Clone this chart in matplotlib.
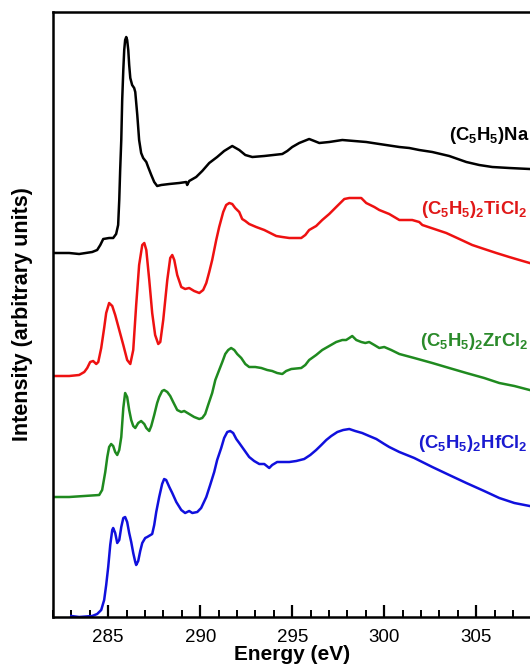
import matplotlib
matplotlib.use("Agg")
import matplotlib.pyplot as plt
from matplotlib.ticker import MultipleLocator

# Carbon K-edge spectra: energy in eV, intensity in arbitrary (stacked) units
na_energy = [282.0, 282.88, 283.42, 284.13, 284.4, 284.57, 284.73, 285.05, 285.27, 285.43,
             285.54, 285.6, 285.65, 285.71, 285.76, 285.82, 285.87, 285.92, 285.98, 286.03,
             286.09, 286.14, 286.2, 286.3, 286.41, 286.47, 286.58, 286.68, 286.79, 286.9,
             287.07, 287.17, 287.34, 287.5, 287.66, 287.88, 288.32, 288.86, 289.24, 289.29,
             289.4, 289.78, 290.11, 290.49, 290.92, 291.3, 291.74, 292.12, 292.45, 292.83,
             293.48, 294.46, 294.73, 295.0, 295.38, 295.92, 296.2, 296.47, 297.01, 297.72,
             298.37, 299.02, 299.73, 300.82, 301.36, 301.9, 302.61, 303.53, 304.46, 305.16,
             305.87, 306.79, 307.9]
na_int = [364, 364, 363, 365, 367, 372, 378, 379, 379, 383,
          392, 417, 447, 477, 517, 547, 567, 577, 580, 577,
          567, 552, 539, 532, 529, 525, 502, 477, 464, 459,
          455, 450, 442, 435, 431, 432, 433, 434, 435, 432,
          436, 440, 446, 454, 460, 466, 471, 467, 462, 460,
          461, 463, 466, 470, 474, 478, 476, 474, 475, 477,
          476, 475, 473, 470, 469, 467, 465, 461, 455, 452,
          450, 449, 448]

ti_energy = [282.0, 282.88, 283.42, 283.7, 283.86, 284.02, 284.18, 284.35, 284.46, 284.62,
             284.78, 284.89, 285.05, 285.22, 285.38, 285.6, 285.82, 286.03, 286.2, 286.36,
             286.52, 286.68, 286.85, 286.96, 287.07, 287.23, 287.39, 287.55, 287.72, 287.83,
             287.99, 288.21, 288.37, 288.48, 288.59, 288.75, 288.97, 289.18, 289.4, 289.67,
             289.95, 290.16, 290.33, 290.49, 290.65, 290.87, 291.03, 291.25, 291.41, 291.58,
             291.74, 291.9, 292.12, 292.28, 292.45, 292.66, 293.04, 293.48, 294.13, 294.46,
             294.84, 295.49, 295.71, 295.92, 296.3, 296.63, 297.01, 297.39, 297.83, 298.1,
             298.48, 298.75, 299.02, 299.46, 299.73, 300.27, 300.82, 301.52, 301.9, 302.07,
             302.72, 303.37, 304.08, 304.78, 305.43, 306.09, 306.79, 307.34, 307.9]
ti_int = [241, 241, 242, 245, 249, 255, 256, 253, 255, 269,
          289, 304, 314, 311, 302, 287, 272, 257, 253, 267,
          312, 352, 372, 374, 367, 337, 304, 282, 273, 275,
          297, 337, 359, 362, 357, 342, 330, 328, 329, 326,
          324, 327, 334, 345, 357, 377, 390, 405, 412, 414,
          413, 409, 405, 398, 396, 393, 390, 387, 381, 380,
          379, 379, 382, 387, 391, 397, 403, 410, 418, 419,
          419, 419, 414, 410, 407, 403, 397, 397, 395, 392,
          388, 384, 378, 372, 368, 364, 360, 357, 354]

zr_energy = [282.0, 282.88, 283.7, 284.51, 284.67, 284.84, 284.95, 285.05, 285.16, 285.27,
             285.38, 285.49, 285.6, 285.71, 285.82, 285.92, 286.03, 286.14, 286.25, 286.36,
             286.47, 286.63, 286.79, 286.96, 287.07, 287.23, 287.34, 287.5, 287.66, 287.77,
             287.93, 288.04, 288.21, 288.37, 288.53, 288.75, 288.97, 289.13, 289.4, 289.67,
             289.95, 290.11, 290.27, 290.43, 290.65, 290.82, 291.03, 291.2, 291.36, 291.52,
             291.68, 291.85, 292.01, 292.23, 292.45, 292.66, 292.99, 293.32, 293.64, 293.91,
             294.18, 294.46, 294.67, 294.95, 295.49, 295.71, 295.92, 296.3, 296.63, 297.01,
             297.39, 297.72, 297.93, 298.1, 298.26, 298.48, 298.75, 298.97, 299.18, 299.46,
             299.73, 300.0, 300.38, 300.82, 301.63, 302.61, 303.53, 304.46, 305.43, 306.25,
             307.07, 307.9]
zr_int = [120, 120, 121, 122, 127, 145, 160, 170, 173, 171,
          165, 162, 167, 180, 209, 224, 220, 207, 197, 191,
          189, 194, 196, 193, 189, 186, 191, 202, 214, 220,
          226, 227, 225, 221, 215, 207, 205, 206, 203, 200,
          198, 199, 203, 212, 224, 237, 247, 255, 263, 267,
          269, 267, 263, 259, 253, 250, 250, 249, 247, 246,
          244, 243, 246, 248, 249, 252, 257, 262, 267, 271,
          275, 277, 277, 279, 281, 277, 275, 274, 275, 272,
          269, 270, 267, 263, 259, 254, 249, 244, 239, 234,
          231, 227]

hf_energy = [282.99, 283.42, 284.13, 284.4, 284.62, 284.78, 284.89, 285.0, 285.11, 285.22,
             285.27, 285.38, 285.49, 285.6, 285.71, 285.82, 285.92, 286.03, 286.14, 286.25,
             286.36, 286.47, 286.52, 286.63, 286.74, 286.85, 287.01, 287.12, 287.39, 287.5,
             287.61, 287.77, 287.93, 288.04, 288.15, 288.32, 288.48, 288.7, 288.97, 289.18,
             289.4, 289.57, 289.84, 290.05, 290.33, 290.54, 290.76, 290.92, 291.14, 291.3,
             291.47, 291.63, 291.79, 291.96, 292.12, 292.39, 292.66, 292.93, 293.21, 293.48,
             293.75, 293.91, 294.18, 294.84, 295.22, 295.65, 295.98, 296.3, 296.58, 296.85,
             297.12, 297.45, 297.77, 298.1, 298.42, 298.8, 299.18, 299.57, 300.0, 300.27,
             300.82, 301.63, 302.61, 303.53, 304.46, 305.43, 306.25, 307.07, 307.9]
hf_int = [1, 0, 1, 3, 7, 17, 32, 50, 72, 87,
          89, 84, 74, 77, 90, 99, 100, 95, 84, 75,
          64, 55, 52, 56, 66, 74, 79, 80, 83, 92,
          105, 120, 133, 138, 137, 130, 124, 115, 107, 104,
          106, 104, 105, 109, 120, 132, 145, 157, 169, 179,
          185, 186, 184, 178, 174, 167, 160, 156, 153, 153,
          149, 152, 155, 155, 156, 158, 162, 167, 172, 177,
          181, 185, 187, 188, 186, 184, 181, 178, 173, 170,
          165, 159, 150, 142, 134, 126, 119, 114, 111]

labels = [r"$\mathbf{(C_5H_5)Na}$",
          r"$\mathbf{(C_5H_5)_2TiCl_2}$",
          r"$\mathbf{(C_5H_5)_2ZrCl_2}$",
          r"$\mathbf{(C_5H_5)_2HfCl_2}$"]

plt.rcParams["font.family"] = ["Liberation Sans", "DejaVu Sans"]
plt.rcParams["mathtext.fontset"] = "custom"
plt.rcParams["mathtext.rm"] = "Liberation Sans"
plt.rcParams["mathtext.bf"] = "Liberation Sans:bold"

fig = plt.figure(figsize=(5.30, 6.69), dpi=100)
# the original figure is cropped on the right, so the axes runs to the edge
ax = fig.add_axes([53 / 530, 52 / 669, 477 / 530, 605 / 669])

series = [
    (na_energy, na_int, "black", "black", (303.5, 482)),
    (ti_energy, ti_int, "#ee1111", "#e01818", (302.0, 408)),
    (zr_energy, zr_int, "#1f8a1f", "#2a8a2a", (301.95, 276)),
    (hf_energy, hf_int, "#1010dd", "#1a1ad0", (301.85, 174)),
]
for (x, y, col, tcol, pos), lab in zip(series, labels):
    ax.plot(x, y, color=col, lw=1.8, solid_joinstyle="round")
    ax.text(pos[0], pos[1], lab, color=tcol, fontsize=13.3, va="center", ha="left")

ax.set_xlim(282, 307.92)
ax.set_ylim(0, 605)
ax.xaxis.set_major_locator(MultipleLocator(5))
ax.xaxis.set_minor_locator(MultipleLocator(1))
ax.set_yticks([])
ax.tick_params(axis="x", which="major", direction="in", length=9, width=1.6,
               labelsize=13.5, pad=9)
ax.tick_params(axis="x", which="minor", direction="in", length=5, width=1.4)
ax.spines["right"].set_visible(False)
for s in ["left", "top", "bottom"]:
    ax.spines[s].set_linewidth(1.8)

ax.set_xlabel("Energy (eV)", fontsize=15, fontweight="bold")
ax.xaxis.set_label_coords((292 - 53) / 477, -0.046)
ax.set_ylabel("Intensity (arbitrary units)", fontsize=15.5, fontweight="bold")
ax.yaxis.set_label_coords(-0.042, 0.5)

fig.savefig("out.png", dpi=100)
